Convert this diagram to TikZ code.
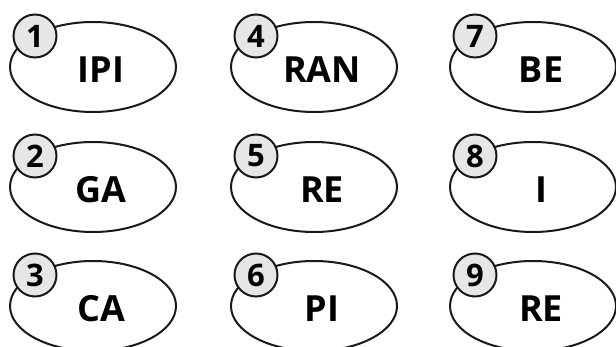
\documentclass[tikz,border=0pt]{standalone}
\usepackage{fontspec}
\setmainfont{Open Sans}
\usetikzlibrary{shapes.geometric}
\definecolor{numfill}{HTML}{E6E6E6}
\tikzset{
  oval/.style={ellipse, draw=black!90, line width=2pt, minimum width=166pt, minimum height=90pt, inner sep=0pt, fill=white},
  numdisc/.style={circle, draw=black!90, line width=2pt, minimum size=43pt, inner sep=0pt, fill=numfill, font=\fontsize{31}{31}\selectfont\bfseries},
  word/.style={inner sep=0pt, font=\fontsize{36}{36}\selectfont\bfseries}
}
\begin{document}
\begin{tikzpicture}[x=1pt,y=-1pt]
\useasboundingbox (0,0) rectangle (616,347);
\clip (0,0) rectangle (616,347);
\foreach \n/\cx/\cy/\t in {1/93/67/IPI,2/93/187/GA,3/93/306/CA,4/314/67/RAN,5/314/187/RE,6/314/306/PI,7/533/67/BE,8/533/187/I,9/533/306/RE}{
  \node[oval] (e\n) at (\cx,\cy) {};
  \node[numdisc] (c\n) at (\cx-58,\cy-31) {\n};
  \node[word] (t\n) at (\cx+8,\cy+3) {\t};
}
\end{tikzpicture}
\end{document}
